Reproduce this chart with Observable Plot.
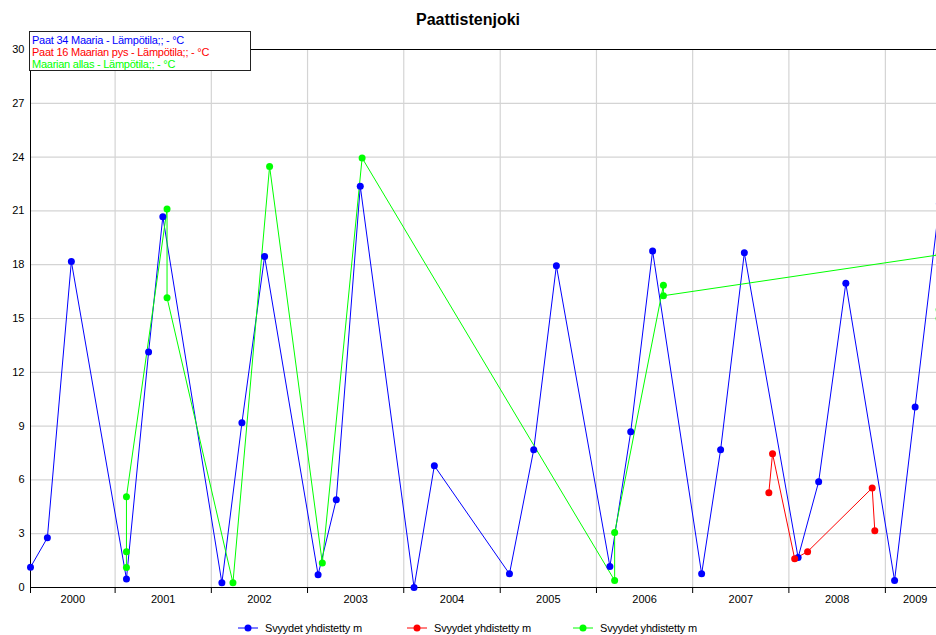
<!DOCTYPE html>
<html>
<head>
<meta charset="utf-8">
<script src="https://cdn.jsdelivr.net/npm/d3@7"></script>
<script src="https://cdn.jsdelivr.net/npm/@observablehq/plot@0.6"></script>
<style>
  html, body { margin: 0; padding: 0; background: #fff; overflow: hidden; }
  #wrap { position: relative; width: 936px; height: 635px; overflow: hidden; font-family: "Liberation Sans", Arial, sans-serif; }
  #chart svg { overflow: hidden; }
  #title { position: absolute; left: 0; top: 10px; width: 936px; text-align: center; font-weight: bold; font-size: 16px; line-height: 19px; color: #000; }
  #toplegend { position: absolute; left: 29px; top: 31px; width: 218px; height: 36px; border: 1px solid #222; background: #fff; padding: 2px 0 0 2px; font-size: 11px; line-height: 12px; letter-spacing: -0.25px; white-space: nowrap; }
  .bl { position: absolute; top: 620px; height: 16px; font-size: 11px; line-height: 16px; white-space: nowrap; letter-spacing: -0.2px; }
  .bl svg { position: absolute; left: 0; top: 0; }
  .bl span { position: absolute; top: 0; }
</style>
</head>
<body>
<div id="wrap">
  <div id="chart"></div>
  <div id="title"></div>
  <div id="toplegend"></div>
  <div id="bottomlegend"></div>
</div>
<script>
const titleText = "Paattistenjoki";
const seriesNames = ["Paat 34 Maaria - Lämpötila;; - °C", "Paat 16 Maarian pys - Lämpötila;; - °C", "Maarian allas - Lämpötila;; - °C"];
const seriesColors = ["#0000ff", "#ff0000", "#00ff00"];
const legendLabel = "Svyydet yhdistetty m";

const blueDates = ["2000-02-15","2000-04-19","2000-07-19","2001-02-13","2001-05-08","2001-07-01","2002-02-10","2002-04-27","2002-07-22","2003-02-10","2003-04-20","2003-07-20","2004-02-09","2004-04-26","2005-02-05","2005-05-08","2005-08-02","2006-02-21","2006-05-11","2006-08-02","2007-02-04","2007-04-17","2007-07-16","2008-02-05","2008-04-23","2008-08-04","2009-02-05","2009-04-24","2009-07-25"];
const blueValues = [1.13,2.77,18.18,0.48,13.13,20.68,0.26,9.18,18.46,0.71,4.90,22.37,0.0,6.79,0.76,7.68,17.94,1.17,8.68,18.77,0.76,7.68,18.66,1.67,5.90,16.96,0.39,10.07,21.4];

const redDates = ["2007-10-17","2007-10-31","2008-01-23","2008-03-12","2008-11-12","2008-11-22"];
const redValues = [5.29,7.46,1.60,2.0,5.55,3.16];

const greenDates = ["2001-02-13","2001-02-13","2001-02-13","2001-07-17","2001-07-17","2002-03-24","2002-08-10","2003-02-26","2003-07-27","2006-03-11","2006-03-11","2006-09-12","2006-09-12","2009-07-24","2009-07-24","2009-07-24"];
const greenValues = [1.11,2.0,5.06,21.11,16.16,0.26,23.48,1.37,23.95,0.39,3.06,16.86,16.27,18.55,15.5,15.0];

const years = [2000,2001,2002,2003,2004,2005,2006,2007,2008,2009];
const yTicks = [0,3,6,9,12,15,18,21,24,27,30];

const xStart = new Date("2000-02-15");
const xEnd = new Date("2009-07-14");
const visualEnd = new Date("2009-08-15");

const toRows = (dates, values) => dates.map((d, i) => ({date: new Date(d), value: values[i]}));
const series = [toRows(blueDates, blueValues), toRows(redDates, redValues), toRows(greenDates, greenValues)];

const yearStarts = years.slice(1).map(y => new Date(Date.UTC(y, 0, 1)));
const yearLabels = years.map(y => {
  const a = Math.max(+new Date(Date.UTC(y, 0, 1)), +xStart);
  const b = Math.min(+new Date(Date.UTC(y + 1, 0, 1)), +visualEnd);
  return {date: new Date((a + b) / 2), label: String(y)};
});

const grid = "#d4d4d4";
const marks = [
  Plot.ruleY(yTicks.filter(t => t > 0 && t < 30), {y: d => d, stroke: grid, strokeWidth: 1.2}),
  Plot.ruleX(yearStarts, {x: d => d, y1: 0, y2: 30, stroke: grid, strokeWidth: 1.2}),
  Plot.ruleY([0, 30], {y: d => d, stroke: "#000", strokeWidth: 1}),
  Plot.ruleX([xStart], {x: d => d, y1: 0, y2: 30, stroke: "#000", strokeWidth: 1}),
  Plot.ruleX([xStart, ...yearStarts], {x: d => d, y1: 0, y2: 0, insetBottom: -6, stroke: "#000", strokeWidth: 1}),
  Plot.text(yTicks, {x: xStart, y: d => d, text: d => String(d), textAnchor: "end", dx: -6, fontSize: 11, fill: "#000"}),
  Plot.text(yearLabels, {x: "date", y: 0, text: "label", dy: 12, fontSize: 11, fill: "#000"})
];
series.forEach((rows, i) => {
  marks.push(Plot.line(rows, {x: "date", y: "value", stroke: seriesColors[i], strokeWidth: 1, curve: "linear"}));
});
series.forEach((rows, i) => {
  marks.push(Plot.dot(rows, {x: "date", y: "value", fill: seriesColors[i], r: 3.5, stroke: "none"}));
});

const chart = Plot.plot({
  width: 936,
  height: 635,
  marginTop: 49,
  marginBottom: 48,
  marginLeft: 30,
  marginRight: 0,
  style: {fontFamily: "'Liberation Sans', Arial, sans-serif", fontSize: "11px", background: "#fff", overflow: "hidden"},
  x: {type: "utc", domain: [xStart, xEnd], axis: null},
  y: {domain: [0, 30], axis: null},
  marks
});
document.getElementById("chart").appendChild(chart);

document.getElementById("title").textContent = titleText;
const tl = document.getElementById("toplegend");
seriesNames.forEach((n, i) => {
  const div = document.createElement("div");
  div.textContent = n;
  div.style.color = seriesColors[i];
  tl.appendChild(div);
});

const bl = document.getElementById("bottomlegend");
const legendX = [238, 407, 573];
seriesColors.forEach((c, i) => {
  const item = document.createElement("div");
  item.className = "bl";
  item.style.left = legendX[i] + "px";
  item.style.width = "140px";
  item.innerHTML = `<svg width="24" height="16"><line x1="0" y1="8" x2="20" y2="8" stroke="${c}" stroke-width="1"/><circle cx="10" cy="8" r="3.5" fill="${c}"/></svg><span style="left:27px">${legendLabel}</span>`;
  bl.appendChild(item);
});
</script>
</body>
</html>
